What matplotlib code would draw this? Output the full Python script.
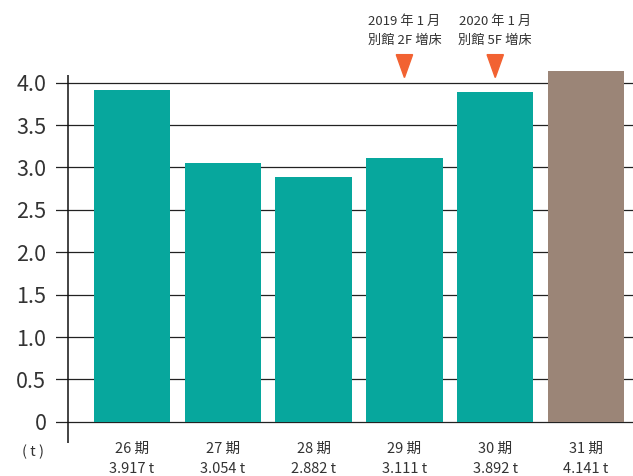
import matplotlib
matplotlib.use("Agg")
import matplotlib.pyplot as plt
from matplotlib.patches import Polygon

plt.rcParams['font.family'] = ['Noto Sans CJK JP', 'DejaVu Sans']

periods = ['26 期', '27 期', '28 期', '29 期', '30 期', '31 期']
values = [3.917, 3.054, 2.882, 3.111, 3.892, 4.141]
colors = ['#07a79d'] * 5 + ['#9b8577']
yticks = [0, 0.5, 1.0, 1.5, 2.0, 2.5, 3.0, 3.5, 4.0]
ytick_labels = ['0', '0.5', '1.0', '1.5', '2.0', '2.5', '3.0', '3.5', '4.0']
notes = {3: '2019 年 1 月\n別館 2F 増床', 4: '2020 年 1 月\n別館 5F 増床'}

fig = plt.figure(figsize=(6.33, 4.76), dpi=100)
ax = fig.add_axes([56 / 633, 33 / 476, 577 / 633, 368 / 476])

x = list(range(len(values)))
ax.bar(x, values, width=0.84, color=colors, zorder=3, clip_on=False)

ax.set_xlim(-0.837, 5.517)
ax.set_ylim(-0.25, 4.09)

for t in yticks:
    ax.axhline(t, color='#222222', lw=0.9, zorder=1)
ax.axvline(-0.705, color='#111111', lw=1.1, zorder=4)

for s in ax.spines.values():
    s.set_visible(False)

ax.set_yticks(yticks)
ax.set_yticklabels(ytick_labels, fontsize=15.5, color='#333333')
ax.tick_params(axis='y', length=0, pad=7)

ax.set_xticks(x)
ax.set_xticklabels([f'{p}\n{v:.3f} t' for p, v in zip(periods, values)],
                   fontsize=10.5, color='#333333', linespacing=1.55)
ax.tick_params(axis='x', length=0, pad=-1)

fig.text(33 / 633, 1 - 452 / 476, '( t )', fontsize=10.5, color='#333333',
         ha='center', va='center')

for i, txt in notes.items():
    ax.text(i, 4.61, txt, ha='center', va='center', fontsize=9.5,
            color='#333333', linespacing=1.6, clip_on=False)
    tri = Polygon([[i - 0.09, 4.33], [i + 0.09, 4.33], [i, 4.06]],
                  closed=True, color='#f26232', clip_on=False, zorder=5)
    ax.add_patch(tri)

fig.savefig('out.png', dpi=100)
